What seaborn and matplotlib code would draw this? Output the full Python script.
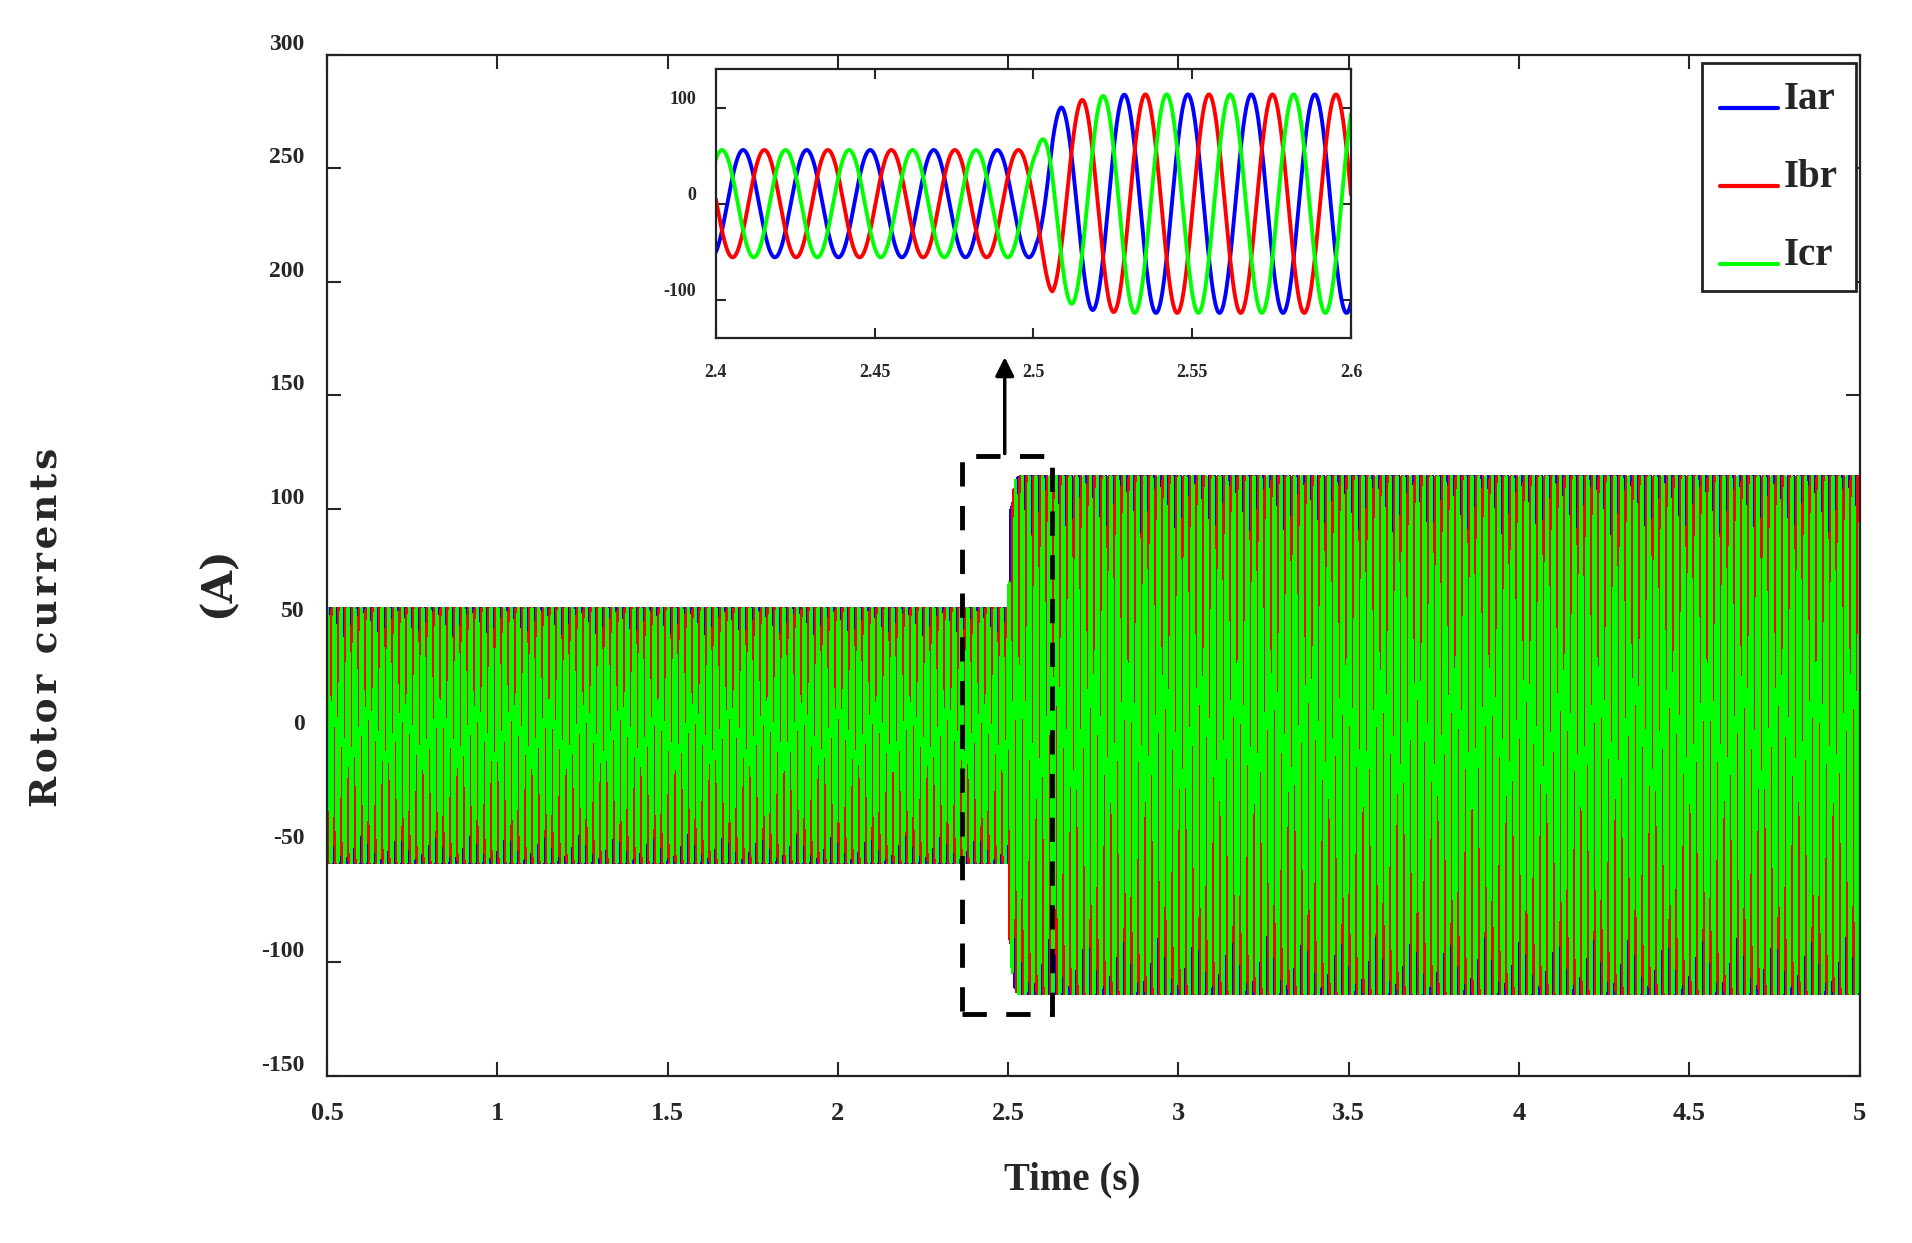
"""Rotor currents of the three phases, with a zoom on the step at t = 2.5 s."""
import matplotlib
matplotlib.use("Agg")
import matplotlib.pyplot as plt
import numpy as np
import pandas as pd
import seaborn as sns
from matplotlib.legend_handler import HandlerLine2D
from matplotlib.patches import Rectangle

# phases
phase_names = ["Iar", "Ibr", "Icr"]
phase_colors = ["#0000ff", "#ff0000", "#00ff00"]
phase_shift_deg = [0.0, -120.0, 120.0]

# waveform: 50 Hz, crest of Iar near 2.4086 s
freq_hz = 50.0
crest_time_a = 2.4086
env_time = [0.5, 2.501, 2.506, 2.509, 2.516, 2.520, 2.530, 5.0]
env_amp = [56.0, 56.0, 94.0, 101.0, 109.0, 112.0, 114.0, 114.0]

# axes
main_xticks = [0.5, 1, 1.5, 2, 2.5, 3, 3.5, 4, 4.5, 5]
main_yticks = [-150, -100, -50, 0, 50, 100, 150, 200, 250, 300]
zoom_xticks = [2.4, 2.45, 2.5, 2.55, 2.6]
zoom_yticks = [-100, 0, 100]
zoom_box = [2.365, 2.63, -123, 123]
arrow_x, arrow_tip = 2.49, 168


def fmt(v):
    return ("%g" % v)


class BaselineLine(HandlerLine2D):
    """Legend line drawn low, near the text baseline."""

    def create_artists(self, legend, orig_handle, xdescent, ydescent,
                       width, height, fontsize, trans):
        return super().create_artists(legend, orig_handle, xdescent, ydescent,
                                      width, height * 0.05, fontsize, trans)


sns.set_style("ticks")
plt.rcParams["font.family"] = ["Liberation Serif", "DejaVu Serif"]
plt.rcParams["font.weight"] = "bold"
plt.rcParams["axes.unicode_minus"] = False
plt.rcParams["axes.linewidth"] = 1.6
plt.rcParams["axes.edgecolor"] = "#222222"

t = np.linspace(0.5, 5.0, 90001)
amp = np.interp(t, env_time, env_amp)
frames = []
for name, shift in zip(phase_names, phase_shift_deg):
    y = amp * np.cos(2 * np.pi * freq_hz * (t - crest_time_a) + np.deg2rad(shift))
    frames.append(pd.DataFrame({"t": t, "i": y, "phase": name}))
df = pd.concat(frames, ignore_index=True)
palette = dict(zip(phase_names, phase_colors))

fig = plt.figure(figsize=(19.12, 12.43), dpi=100)
ax = fig.add_axes([0.171, 0.1347, 0.8016, 0.8211])

sns.lineplot(data=df, x="t", y="i", hue="phase", hue_order=phase_names,
             palette=palette, estimator=None, sort=False, lw=1.5,
             antialiased=False, ax=ax)
ax.set_xlim(0.5, 5)
ax.set_ylim(-150, 300)
ax.set_xticks(main_xticks)
ax.set_xticklabels([fmt(v) for v in main_xticks])
ax.set_yticks(main_yticks)
ax.set_yticklabels([fmt(v) for v in main_yticks], va="bottom")
ax.tick_params(direction="in", length=10, width=1.5, top=True, right=True)
ax.tick_params(axis="x", labelsize=19, pad=19)
ax.tick_params(axis="y", labelsize=17, pad=16)
ax.set_ylabel("")
ax.set_xlabel("Time (s)", fontsize=28, fontweight="bold")
ax.xaxis.set_label_coords(0.4866, -0.1024)
ax.xaxis.label.set_va("center")

# legend
h, l = ax.get_legend_handles_labels()
leg = ax.legend(h, l, loc="upper right", bbox_to_anchor=(0.9974, 0.9917),
                borderaxespad=0, fancybox=False, framealpha=1, edgecolor="#222222",
                prop=dict(family="Liberation Serif", weight="bold", size=28),
                handlelength=1.5, handletextpad=0.15, labelspacing=1.05, borderpad=0.45,
                handler_map={matplotlib.lines.Line2D: BaselineLine()})
leg.get_frame().set_linewidth(2.0)
for line in leg.get_lines():
    line.set_linewidth(3.0)

# zoom marker and arrow
ax.add_patch(Rectangle((zoom_box[0], zoom_box[2]), zoom_box[1] - zoom_box[0],
                       zoom_box[3] - zoom_box[2], fill=False, ec="k", lw=3.5,
                       ls=(0, (5, 4)), zorder=5))
ax.annotate("", xy=(arrow_x, arrow_tip), xytext=(arrow_x, zoom_box[3]),
            arrowprops=dict(arrowstyle="-|>", lw=2.5, color="k", mutation_scale=28),
            zorder=6)

# inset
axin = fig.add_axes([0.3744, 0.7282, 0.3322, 0.2159])
sub = df[(df["t"] >= 2.4) & (df["t"] <= 2.6)]
sns.lineplot(data=sub, x="t", y="i", hue="phase", hue_order=phase_names,
             palette=palette, estimator=None, sort=False, lw=2.8, legend=False, ax=axin)
axin.set_xlim(2.4, 2.6)
axin.set_ylim(-140, 140)
axin.set_xticks(zoom_xticks)
axin.set_xticklabels([fmt(v) for v in zoom_xticks])
axin.set_yticks(zoom_yticks)
axin.set_yticklabels([fmt(v) for v in zoom_yticks], va="bottom")
axin.tick_params(direction="in", length=7, width=1.5, top=True, right=True, labelsize=13)
axin.tick_params(axis="x", pad=19)
axin.tick_params(axis="y", pad=14)
axin.set_xlabel("")
axin.set_ylabel("")

# y labels
fig.text(46 / 1912, 1 - 627 / 1243, "R\u200ao\u200at\u200ao\u200ar\u200a \u200ac\u200au\u200ar\u200ar\u200ae\u200an\u200at\u200as",
         rotation=90, ha="center", va="center", family=["DejaVu Serif", "DejaVu Sans"],
         weight="bold", size=27)
fig.text(217 / 1912, 1 - 582 / 1243, "(A)", rotation=90, ha="center",
         va="center", family="DejaVu Serif", weight="bold", size=30)

fig.savefig("out.png", dpi=100)
